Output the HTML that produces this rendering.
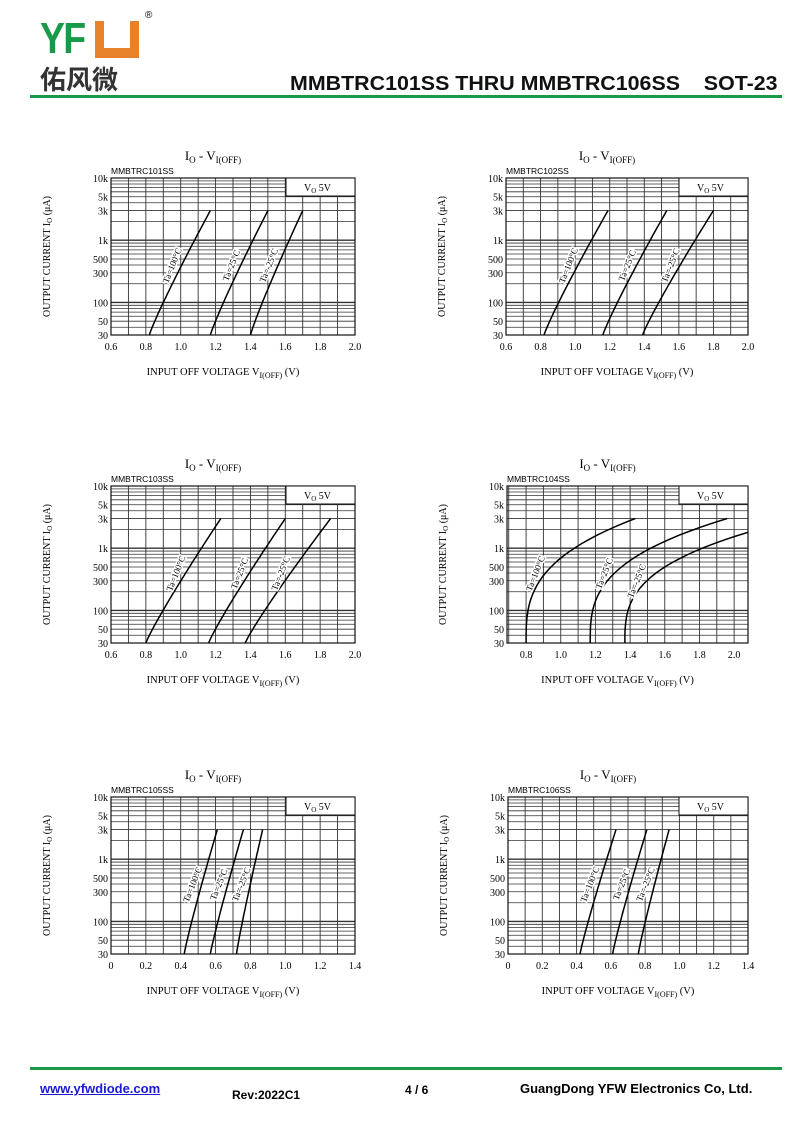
<!DOCTYPE html>
<html><head><meta charset="utf-8"><style>
body{margin:0;background:#fff;width:800px;height:1130px;overflow:hidden;position:relative;font-family:"Liberation Sans",sans-serif}
.abs{position:absolute;white-space:nowrap}
</style></head><body>
<div class="abs" style="left:40px;top:14px;font:bold 44px 'Liberation Sans',sans-serif;color:#1a9a48;letter-spacing:-2px;transform:scaleX(0.85);transform-origin:left">YF</div>
<div class="abs" style="left:95px;top:21px;width:44px;height:37px;background:#e8822a"></div>
<div class="abs" style="left:104px;top:21px;width:26px;height:27px;background:#fff"></div>
<div class="abs" style="left:145px;top:10px;font-size:10px">®</div>
<div class="abs" style="left:40px;top:60px;font:bold 26px 'Noto Sans CJK SC',sans-serif;color:#333">佑风微</div>
<div class="abs" style="left:290px;top:73px;font:bold 20px 'Liberation Sans',sans-serif;color:#111;transform:scaleX(1.07);transform-origin:left">MMBTRC101SS THRU MMBTRC106SS&nbsp;&nbsp;&nbsp;&nbsp;SOT-23</div>
<div class="abs" style="left:30px;top:95px;width:752px;height:3px;background:#1a9a48"></div>
<div class="abs" style="left:30px;top:1067px;width:752px;height:3px;background:#1a9a48"></div>
<div class="abs" style="left:40px;top:1081px;font:bold 13px 'Liberation Sans';color:#1a1ad0;text-decoration:underline">www.yfwdiode.com</div>
<div class="abs" style="left:232px;top:1088px;font:bold 12px 'Liberation Sans'">Rev:2022C1</div>
<div class="abs" style="left:405px;top:1083px;font:bold 12px 'Liberation Sans'">4 / 6</div>
<div class="abs" style="left:520px;top:1081px;font:bold 13px 'Liberation Sans'">GuangDong YFW Electronics Co, Ltd.</div>
<svg id="s" class="abs" style="left:0;top:0" width="800" height="1130"></svg>
<script>
var charts=[
{x0:111,y0:178,w:244,name:"MMBTRC101SS",xr:[0.6,2.0],ticks:[0.6,0.8,1.0,1.2,1.4,1.6,1.8,2.0],k:1.1,
 c:[[0.82,1.17,3000,"Ta=100°C"],[1.17,1.5,3000,"Ta=25°C"],[1.4,1.7,3000,"Ta=-25°C"]]},
{x0:506,y0:178,w:242,name:"MMBTRC102SS",xr:[0.6,2.0],ticks:[0.6,0.8,1.0,1.2,1.4,1.6,1.8,2.0],k:1.1,
 c:[[0.82,1.19,3000,"Ta=100°C"],[1.16,1.53,3000,"Ta=25°C"],[1.39,1.8,3000,"Ta=-25°C"]]},
{x0:111,y0:486,w:244,name:"MMBTRC103SS",xr:[0.6,2.0],ticks:[0.6,0.8,1.0,1.2,1.4,1.6,1.8,2.0],k:1.1,
 c:[[0.8,1.23,3000,"Ta=100°C"],[1.16,1.6,3000,"Ta=25°C"],[1.37,1.86,3000,"Ta=-25°C"]]},
{x0:507,y0:486,w:241,name:"MMBTRC104SS",xr:[0.69,2.08],ticks:[0.8,1.0,1.2,1.4,1.6,1.8,2.0],k:3,
 c:[[0.8,1.43,3000,"Ta=100°C"],[1.17,1.96,3000,"Ta=25°C"],[1.37,2.08,1800,"Ta=-25°C"]]},
{x0:111,y0:797,w:244,name:"MMBTRC105SS",xr:[0,1.4],ticks:[0,0.2,0.4,0.6,0.8,1.0,1.2,1.4],k:1.1,
 c:[[0.42,0.61,3000,"Ta=100°C"],[0.57,0.76,3000,"Ta=25°C"],[0.72,0.87,3000,"Ta=-25°C"]]},
{x0:508,y0:797,w:240,name:"MMBTRC106SS",xr:[0,1.4],ticks:[0,0.2,0.4,0.6,0.8,1.0,1.2,1.4],k:1.1,
 c:[[0.42,0.63,3000,"Ta=100°C"],[0.61,0.81,3000,"Ta=25°C"],[0.76,0.94,3000,"Ta=-25°C"]]}];
var h=157,L30=Math.log10(30),out="";
var S='font-family="Liberation Serif,serif"';
charts.forEach(function(c){
 var X=function(v){return c.x0+(v-c.xr[0])/(c.xr[1]-c.xr[0])*c.w};
 var Y=function(i){return c.y0+h-(Math.log10(i)-L30)/(4-L30)*h};
 var r=c.x0+c.w,b=c.y0+h;
 var bx=r-69;
 for(var v=Math.ceil(c.xr[0]*10-1e-6)/10;v<=c.xr[1]+1e-6;v+=0.1){var x=X(v);
  out+='<line x1="'+x+'" y1="'+(x>bx?c.y0+18:c.y0)+'" x2="'+x+'" y2="'+b+'" stroke="#333" stroke-width="0.9"/>';}
 [30,40,50,60,70,80,90,100,200,300,400,500,600,700,800,900,1000,2000,3000,4000,5000,6000,7000,8000,9000].forEach(function(i){var y=Y(i);
  out+='<line x1="'+c.x0+'" y1="'+y+'" x2="'+(y<c.y0+18?bx:r)+'" y2="'+y+'" stroke="#333" stroke-width="'+(i==100||i==1000?1.4:0.8)+'"/>';});
 out+='<rect x="'+c.x0+'" y="'+c.y0+'" width="'+c.w+'" height="'+h+'" fill="none" stroke="#111" stroke-width="1.2"/>';
 out+='<rect x="'+bx+'" y="'+c.y0+'" width="69" height="18" fill="#fff" stroke="#111" stroke-width="1"/>';
 out+='<text x="'+(bx+18)+'" y="'+(c.y0+13)+'" font-size="10" '+S+'>V<tspan font-size="7" dy="2">O</tspan><tspan dy="-2">  5V</tspan></text>';
 [[10000,"10k"],[5000,"5k"],[3000,"3k"],[1000,"1k"],[500,"500"],[300,"300"],[100,"100"],[50,"50"],[30,"30"]].forEach(function(t){
  out+='<text x="'+(c.x0-3)+'" y="'+(Y(t[0])+4)+'" font-size="10" text-anchor="end" '+S+'>'+t[1]+'</text>';});
 c.ticks.forEach(function(t){out+='<text x="'+X(t)+'" y="'+(b+15)+'" font-size="10" text-anchor="middle" '+S+'>'+(t==0?"0":t.toFixed(1))+'</text>';});
 out+='<text x="'+c.x0+'" y="'+(c.y0-4)+'" font-size="8.5" font-family="Liberation Sans,sans-serif">'+c.name+'</text>';
 var cx=c.x0+c.w/2-20;
 out+='<text x="'+cx+'" y="'+(c.y0-18)+'" font-size="13" text-anchor="middle" '+S+'>I<tspan font-size="9" dy="3">O</tspan><tspan dy="-3">  -  V</tspan><tspan font-size="9" dy="3">I(OFF)</tspan></text>';
 out+='<text x="'+(c.x0+c.w/2-10)+'" y="'+(b+40)+'" font-size="10.5" text-anchor="middle" '+S+'>INPUT OFF VOLTAGE V<tspan font-size="8" dy="3">I(OFF)</tspan><tspan dy="-3">   (V)</tspan></text>';
 var ax=c.x0-61,ay=c.y0+h/2;
 out+='<text transform="translate('+ax+','+ay+') rotate(-90)" font-size="10" text-anchor="middle" '+S+'>OUTPUT CURRENT I<tspan font-size="7" dy="2">O</tspan><tspan dy="-2">  (μA)</tspan></text>';
 c.c.forEach(function(cv){
  var pts=[],Le=Math.log10(cv[2]);
  for(var j=0;j<=30;j++){var t=j/30;var li=L30+(Le-L30)*t;var v=cv[0]+(cv[1]-cv[0])*Math.pow(t,c.k);pts.push(X(v).toFixed(1)+","+Y(Math.pow(10,li)).toFixed(1));}
  out+='<polyline points="'+pts.join(" ")+'" fill="none" stroke="#000" stroke-width="1.5"/>';
  var tm=0.55,li=L30+(Le-L30)*tm,vx=X(cv[0]+(cv[1]-cv[0])*Math.pow(tm,c.k))-6,vy=Y(Math.pow(10,li));
  out+='<text transform="translate('+vx+','+vy+') rotate(-68)" font-size="9" text-anchor="middle" '+S+' stroke="#fff" stroke-width="3" paint-order="stroke">'+cv[3]+'</text>';
 });
});
document.getElementById("s").innerHTML=out;
</script>
</body></html>
